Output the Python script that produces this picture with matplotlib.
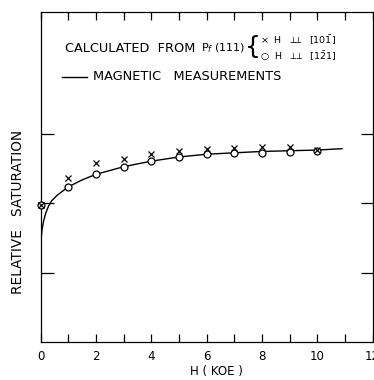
import matplotlib
matplotlib.use("Agg")
import matplotlib.pyplot as plt
import numpy as np

plt.rcParams['font.family'] = ['DejaVu Sans']

# calculated points (x: H in kOe)
h_points = [0, 1, 2, 3, 4, 5, 6, 7, 8, 9, 10]
sat_cross = [1.98, 2.36, 2.58, 2.64, 2.71, 2.75, 2.78, 2.80, 2.81, 2.82, 2.77]
sat_circle = [1.98, 2.24, 2.42, 2.52, 2.61, 2.67, 2.71, 2.73, 2.73, 2.74, 2.76]

# magnetic measurements curve
h_curve = [0.0, 0.02, 0.05, 0.1, 0.18, 0.28, 0.4, 0.6, 1.0, 1.5, 2.0, 3.0,
           4.0, 5.0, 6.0, 7.0, 8.0, 9.0, 10.0, 10.9]
sat_curve = [1.35, 1.52, 1.63, 1.74, 1.86, 1.96, 2.04, 2.12, 2.24, 2.34, 2.42,
             2.53, 2.61, 2.67, 2.71, 2.73, 2.75, 2.76, 2.77, 2.79]

x_major = [0, 2, 4, 6, 8, 10, 12]
x_minor = [1, 3, 5, 7, 9, 11]
y_ticks = [1, 2, 3]

fig = plt.figure(figsize=(3.74, 3.80), dpi=100)
ax = fig.add_axes([0.109, 0.1, 0.887, 0.868])

ax.plot(h_curve, sat_curve, color='black', lw=1.0)
ax.plot(h_points, sat_circle, ls='none', marker='o', ms=5, mew=0.9,
        mfc='white', mec='black', clip_on=False, zorder=3)
ax.plot(h_points, sat_cross, ls='none', marker='x', ms=5, mew=0.9, color='black',
        clip_on=False, zorder=4)

ax.set_xlim(0, 12)
ax.set_ylim(0, 4.76)
ax.set_xticks(x_major)
ax.set_xticks(x_minor, minor=True)
ax.set_xticklabels([str(v) for v in x_major], fontsize=8.5)
ax.set_yticks(y_ticks)
ax.set_yticklabels([])
ax.tick_params(axis='x', which='both', direction='in', length=6, width=0.9,
               top=True, bottom=True, pad=6)
ax.tick_params(axis='y', direction='in', length=9, width=0.9,
               left=True, right=True)
for s in ax.spines.values():
    s.set_linewidth(0.9)

# legend-like annotation
perp = r'$\perp\!\!\!\perp$'
fig.text(65 / 374, 1 - 48 / 380, 'CALCULATED  FROM', fontsize=9.3,
         va='center', ha='left')
fig.text(201 / 374, 1 - 48 / 380, 'P$_f$ (111)', fontsize=8,
         va='center', ha='left')
fig.text(245 / 374, 1 - 47 / 380, '{', fontsize=18, va='center', ha='left')
fig.text(260 / 374, 1 - 40 / 380, '×  H  ' + perp + r'  $[10\bar{1}]$',
         fontsize=6.8, va='center', ha='left')
fig.text(260 / 374, 1 - 56 / 380, '○  H  ' + perp + r'  $[1\bar{2}1]$',
         fontsize=6.8, va='center', ha='left')
fig.add_artist(plt.Line2D([62 / 374, 87 / 374], [1 - 77 / 380, 1 - 77 / 380],
                          color='black', lw=1.0))
fig.text(93 / 374, 1 - 77 / 380, 'MAGNETIC   MEASUREMENTS', fontsize=9.3,
         va='center', ha='left')

fig.text(216 / 374, 1 - 372 / 380, 'H ( KOE )', fontsize=8.5, va='center', ha='center')
fig.text(18 / 374, 1 - 212 / 380, 'RELATIVE   SATURATION', fontsize=9.8,
         rotation=90, va='center', ha='center')

fig.savefig('out.png', dpi=100)
